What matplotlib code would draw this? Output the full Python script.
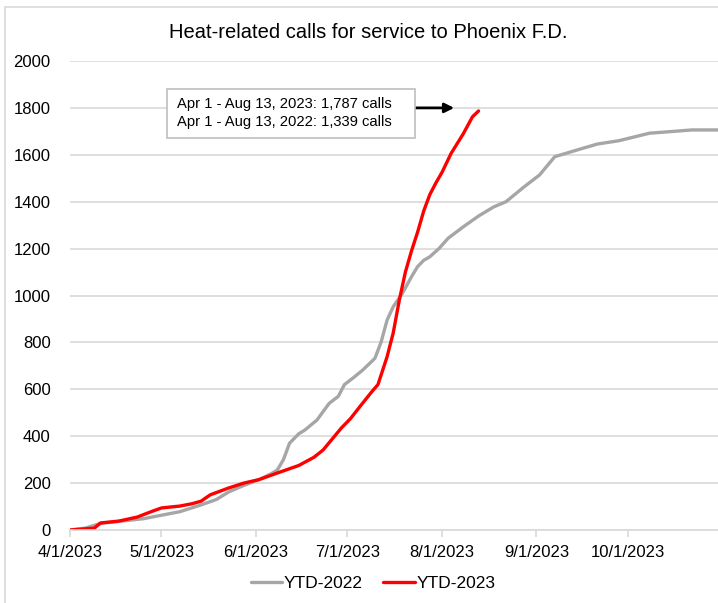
import pandas as pd
import matplotlib
matplotlib.use("Agg")
import matplotlib.pyplot as plt
from matplotlib.patches import Rectangle

plt.rcParams['font.family'] = ['Liberation Sans', 'DejaVu Sans']

# YTD-2022 (cumulative calls, plotted on 2023 calendar)
dates_2022 = ["4/1", "4/6", "4/9", "4/11", "4/18", "4/25", "5/1", "5/7", "5/14", "5/19",
              "5/23", "5/28", "6/2", "6/6", "6/8", "6/10", "6/12", "6/15", "6/17", "6/21",
              "6/25", "6/28", "6/30", "7/3", "7/6", "7/10", "7/12", "7/14", "7/16", "7/19",
              "7/22", "7/24", "7/26", "7/28", "7/31", "8/3", "8/8", "8/13", "8/18", "8/22",
              "8/28", "9/2", "9/7", "9/16", "9/21", "9/28", "10/8", "10/15", "10/22", "10/31"]
calls_2022 = [0, 8, 20, 28, 38, 48, 63, 78, 107, 130,
              162, 190, 215, 240, 256, 300, 370, 410, 426, 469,
              540, 570, 620, 650, 682, 732, 800, 895, 952, 1009,
              1080, 1123, 1150, 1165, 1200, 1244, 1293, 1339, 1378, 1400,
              1464, 1514, 1592, 1627, 1646, 1660, 1692, 1699, 1706, 1706]

# YTD-2023
dates_2023 = ["4/1", "4/9", "4/11", "4/17", "4/23", "4/28", "5/1", "5/7", "5/11", "5/14",
              "5/17", "5/23", "5/28", "6/2", "6/8", "6/15", "6/20", "6/23", "6/29", "7/2",
              "7/5", "7/9", "7/11", "7/14", "7/16", "7/18", "7/20", "7/22", "7/24", "7/26",
              "7/28", "7/30", "8/1", "8/4", "8/8", "8/11", "8/13"]
calls_2023 = [0, 8, 30, 38, 55, 80, 94, 102, 112, 123,
              150, 179, 200, 215, 243, 275, 310, 341, 435, 475,
              525, 590, 620, 739, 840, 980, 1100, 1190, 1270, 1360,
              1430, 1480, 1525, 1606, 1690, 1762, 1787]

tick_dates = ["4/1/2023", "5/1/2023", "6/1/2023", "7/1/2023", "8/1/2023", "9/1/2023", "10/1/2023"]
note_lines = ["Apr 1 - Aug 13, 2023: 1,787 calls", "Apr 1 - Aug 13, 2022: 1,339 calls"]

x22 = pd.to_datetime([d + "/2023" for d in dates_2022], format="%m/%d/%Y")
x23 = pd.to_datetime([d + "/2023" for d in dates_2023], format="%m/%d/%Y")
ticks = pd.to_datetime(tick_dates, format="%m/%d/%Y")

fig = plt.figure(figsize=(7.18, 6.03), dpi=100)
ax = fig.add_axes([70 / 718, 1 - 530 / 603, 1 - 70 / 718 + 0.002, (530 - 61) / 603])

# рамка диаграммы
fig.patches.append(Rectangle((5 / 718, -0.05), 1.1, 1.05 - 7 / 603, transform=fig.transFigure,
                             fill=False, edgecolor="#d9d9d9", linewidth=1.2))

ax.plot(x22, calls_2022, color="#a6a6a6", linewidth=2.4, label="YTD-2022", solid_capstyle="round")
ax.plot(x23, calls_2023, color="#ff0000", linewidth=2.4, label="YTD-2023", solid_capstyle="round")

ax.set_ylim(0, 2000)
ax.set_yticks(range(0, 2001, 200))
ax.set_xlim(pd.Timestamp("2023-04-01"), pd.Timestamp("2023-10-31"))
ax.set_xticks(ticks)
ax.set_xticklabels([t.strftime("%-m/%-d/%Y") for t in ticks])
ax.grid(axis="y", color="#d9d9d9", linewidth=1.2)
ax.set_axisbelow(True)
for s in ["left", "right", "top"]:
    ax.spines[s].set_visible(False)
ax.spines["bottom"].set_color("#d9d9d9")
ax.spines["bottom"].set_linewidth(1.2)
ax.tick_params(axis="y", length=0, labelsize=12, pad=14, colors="black")
ax.tick_params(axis="x", length=5, color="#d9d9d9", width=1.2, labelsize=12, pad=6)

fig.text(368 / 718, 1 - 32 / 603, "Heat-related calls for service to Phoenix F.D.",
         ha="center", va="center", fontsize=14.5)

# подпись с итогами
fig.patches.append(Rectangle((167 / 718, 1 - 138 / 603), (415 - 167) / 718, 49 / 603,
                             transform=fig.transFigure, facecolor="white",
                             edgecolor="#bfbfbf", linewidth=1.2, zorder=5))
fig.text(177 / 718, 1 - 104 / 603, note_lines[0], ha="left", va="center", fontsize=10.6, zorder=6)
fig.text(177 / 718, 1 - 122 / 603, note_lines[1], ha="left", va="center", fontsize=10.6, zorder=6)
ax.annotate("", xy=(pd.Timestamp("2023-08-05"), 1800), xytext=(pd.Timestamp("2023-07-23"), 1800),
            arrowprops=dict(arrowstyle="-|>", color="black", lw=2, mutation_scale=14, shrinkA=0, shrinkB=0))

ax.legend(loc="center", bbox_to_anchor=(373 / 718, 1 - 583 / 603), bbox_transform=fig.transFigure,
          ncol=2, frameon=False, fontsize=12.5, handlelength=1.8, handletextpad=0.1, columnspacing=1.2)

fig.savefig("out.png", dpi=100)
